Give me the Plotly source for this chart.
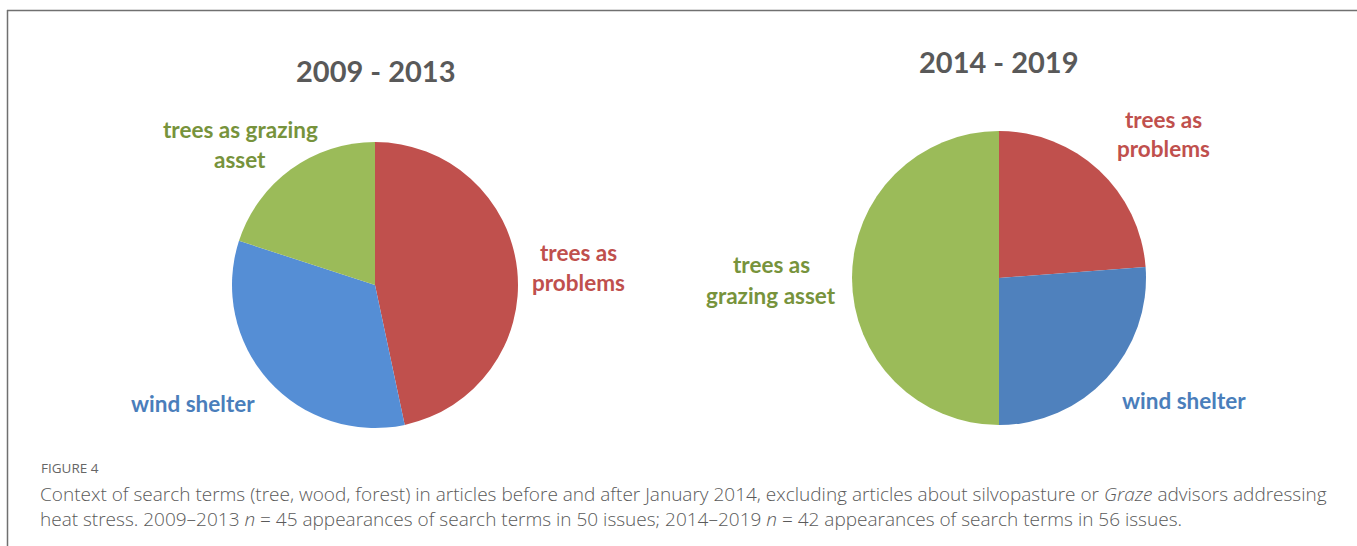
import plotly.graph_objects as go

W, H = 1357, 546

categories = ["trees as problems", "wind shelter", "trees as grazing asset"]
values_2009_2013 = [21, 15, 9]
values_2014_2019 = [10, 11, 21]
colors_2009_2013 = ["#C0504D", "#558ED5", "#9BBB59"]
colors_2014_2019 = ["#C0504D", "#4F81BD", "#9BBB59"]
titles = ["2009 - 2013", "2014 - 2019"]

def px_x(x):
    return x / W

def px_y(y):
    return 1 - y / H

fig = go.Figure()
fig.add_trace(go.Pie(
    labels=categories, values=values_2009_2013, sort=False, direction="clockwise",
    rotation=0, textinfo="none", hoverinfo="label+value",
    marker=dict(colors=colors_2009_2013, line=dict(width=0)),
    domain=dict(x=[px_x(232), px_x(518)], y=[px_y(428), px_y(142)]),
    showlegend=False,
))
fig.add_trace(go.Pie(
    labels=categories, values=values_2014_2019, sort=False, direction="clockwise",
    rotation=0, textinfo="none", hoverinfo="label+value",
    marker=dict(colors=colors_2014_2019, line=dict(width=0)),
    domain=dict(x=[px_x(852), px_x(1146)], y=[px_y(425), px_y(131)]),
    showlegend=False,
))

LAB = "Lato"
ann = []

def add(text, x, y, size, color, weight="bold", family=LAB, xanchor="center"):
    ann.append(dict(text=text, x=px_x(x), y=px_y(y), xref="paper", yref="paper",
                    showarrow=False, xanchor=xanchor, yanchor="middle", align="center",
                    font=dict(family=family, size=size, color=color, weight=weight)))

green_t, red_t, blue_t = "#77933C", "#C0504D", "#4A7EBB"
LS = 22.5

add(f"<b>{titles[0]}</b>", 375, 71, 29, "#595959")
add(f"<b>{titles[1]}</b>", 999, 61, 29, "#595959")

add("<b>trees as grazing</b>", 240, 129, LS, green_t)
add("<b>asset</b>", 240, 159, LS, green_t)
add("<b>trees as</b>", 578, 252, LS, red_t)
add("<b>problems</b>", 578, 282, LS, red_t)
add("<b>wind shelter</b>", 193, 403, LS, blue_t)

add("<b>trees as</b>", 1163, 119, LS, red_t)
add("<b>problems</b>", 1163, 149, LS, red_t)
add("<b>trees as</b>", 771, 264, LS, green_t)
add("<b>grazing asset</b>", 771, 295, LS, green_t)
add("<b>wind shelter</b>", 1184, 400, LS, blue_t)

add("FIGURE 4", 39, 468, 13.5, "#666666", weight="normal", family="Open Sans", xanchor="left")
add("Context of search terms (tree, wood, forest) in articles before and after January 2014, excluding articles about silvopasture or <i>Graze</i> advisors addressing",
    38, 494, 19, "#5a5a5a", weight=300, family="Open Sans", xanchor="left")
add("heat stress. 2009\u20132013 <i>n</i> = 45 appearances of search terms in 50 issues; 2014\u20132019 <i>n</i> = 42 appearances of search terms in 56 issues.",
    38, 519, 19, "#5a5a5a", weight=300, family="Open Sans", xanchor="left")

shapes = [
    dict(type="line", xref="paper", yref="paper", x0=px_x(7), x1=1, y0=px_y(10.5), y1=px_y(10.5),
         line=dict(color="#707070", width=1.5)),
    dict(type="line", xref="paper", yref="paper", x0=px_x(7.5), x1=px_x(7.5), y0=px_y(10), y1=0,
         line=dict(color="#707070", width=1.5)),
]

fig.update_layout(
    width=W, height=H, autosize=False,
    margin=dict(l=0, r=0, t=0, b=0),
    paper_bgcolor="white", plot_bgcolor="white",
    annotations=ann, shapes=shapes,
)

fig.write_html("out.html", config={"displayModeBar": False},
               post_script="document.body.style.margin='0';document.body.style.overflow='hidden';")
